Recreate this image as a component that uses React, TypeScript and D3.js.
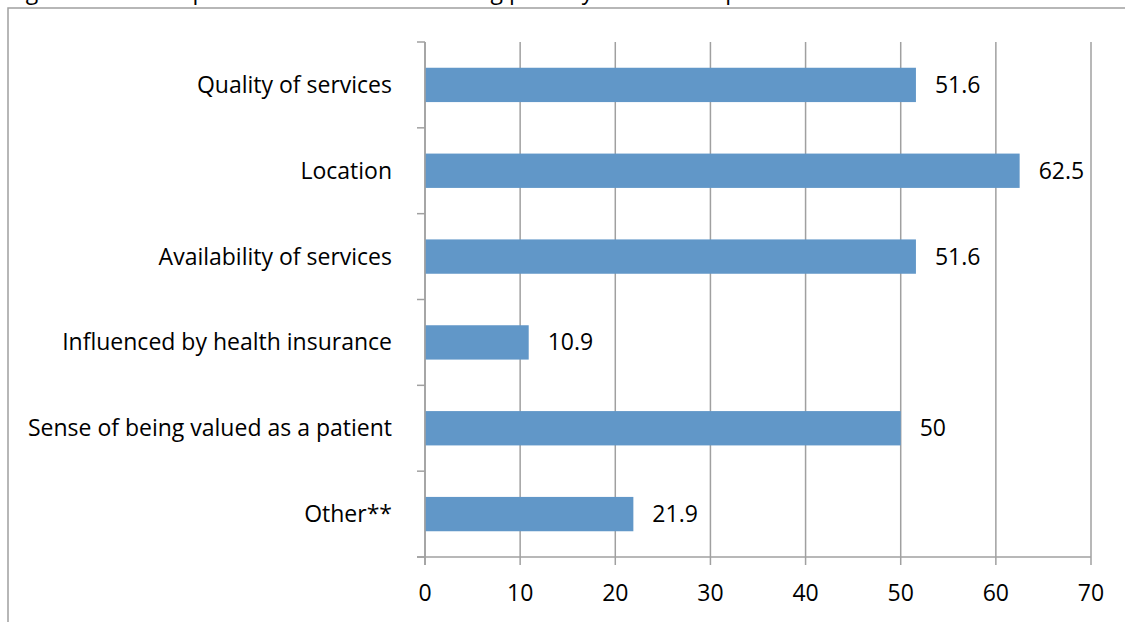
import React from "react";
import * as d3 from "d3";

const categories = [
  "Quality of services",
  "Location",
  "Availability of services",
  "Influenced by health insurance",
  "Sense of being valued as a patient",
  "Other**",
];
const values = [51.6, 62.5, 51.6, 10.9, 50, 21.9];
const xTicks = [0, 10, 20, 30, 40, 50, 60, 70];
const title = "Figure 2. Most important reasons for choosing primary health care provider";

const W = 1125;
const H = 622;
const left = 425;
const right = 1091;
const top = 42;
const bottom = 557;
const FONT = "'Open Sans', Lato, sans-serif";
const FS = 23;

export default function App() {
  const x = d3.scaleLinear().domain([0, 70]).range([left, right]);
  const y = d3
    .scaleBand<string>()
    .domain(categories)
    .range([top, bottom])
    .paddingInner(0.6)
    .paddingOuter(0.3);
  const boundaries = d3.range(categories.length + 1).map((i) => top + i * ((bottom - top) / categories.length));
  const axisColor = "#a0a0a0";

  return (
    <svg
      width={W}
      height={H}
      style={{ position: "absolute", left: 0, top: 0, background: "#fff" }}
      fontFamily={FONT}
    >
      <rect x={0} y={0} width={W} height={H} fill="#fff" />
      <text x={8} y={-1} fontSize={FS} fill="#000">
        {title}
      </text>
      <rect x={8} y={8} width={W + 20} height={H + 20} fill="none" stroke="#a0a0a0" strokeWidth={1.5} />
      {xTicks.map((t) => (
        <line key={"g" + t} x1={x(t)} x2={x(t)} y1={top} y2={bottom + 8} stroke={axisColor} strokeWidth={1.5} />
      ))}
      <line x1={left - 8} x2={right} y1={bottom} y2={bottom} stroke={axisColor} strokeWidth={1.5} />
      {boundaries.map((b, i) => (
        <line key={"yt" + i} x1={left - 8} x2={left} y1={b} y2={b} stroke={axisColor} strokeWidth={1.5} />
      ))}
      {categories.map((c, i) => (
        <rect
          key={c}
          x={x(0)}
          y={y(c)!}
          width={x(values[i]) - x(0)}
          height={y.bandwidth()}
          fill="#6197C8"
        />
      ))}
      <line x1={left} x2={left} y1={top} y2={bottom + 8} stroke={axisColor} strokeWidth={1.5} />
      {categories.map((c) => (
        <text
          key={"l" + c}
          x={392}
          y={y(c)! + y.bandwidth() / 2 + 8}
          textAnchor="end"
          fontSize={FS}
          fill="#000"
        >
          {c}
        </text>
      ))}
      {categories.map((c, i) => (
        <text
          key={"v" + c}
          x={x(values[i]) + 19}
          y={y(c)! + y.bandwidth() / 2 + 8}
          fontSize={FS}
          fill="#000"
        >
          {String(values[i])}
        </text>
      ))}
      {xTicks.map((t) => (
        <text key={"xl" + t} x={x(t)} y={601} textAnchor="middle" fontSize={FS} fill="#000">
          {String(t)}
        </text>
      ))}
    </svg>
  );
}
